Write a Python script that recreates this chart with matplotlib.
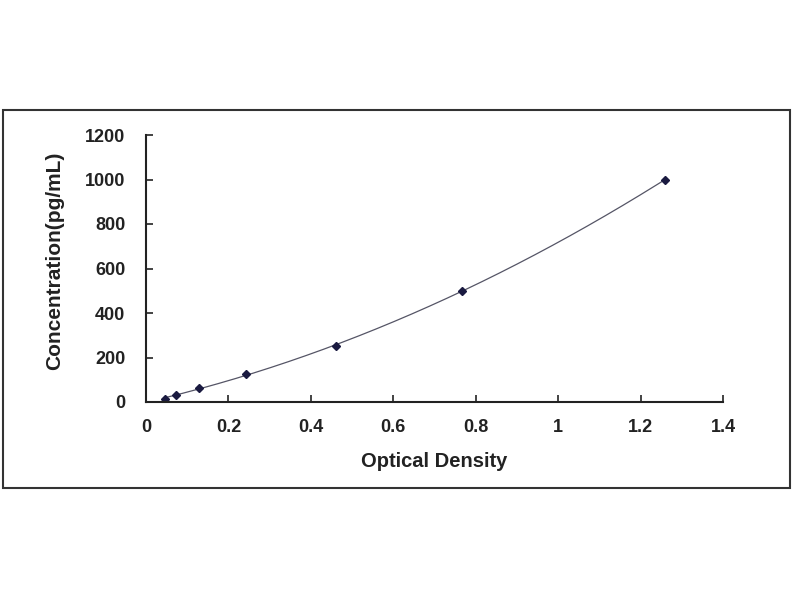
import numpy as np
import matplotlib
matplotlib.use("Agg")
import matplotlib.pyplot as plt
from matplotlib.patches import Rectangle

od = [0.047, 0.073, 0.128, 0.243, 0.46, 0.766, 1.26]
conc = [15.6, 31.25, 62.5, 125, 250, 500, 1000]
xticks = [0, 0.2, 0.4, 0.6, 0.8, 1.0, 1.2, 1.4]
xticklabels = ["0", "0.2", "0.4", "0.6", "0.8", "1", "1.2", "1.4"]
yticks = [0, 200, 400, 600, 800, 1000, 1200]

plt.rcParams['font.family'] = ['Liberation Sans', 'DejaVu Sans']

fig = plt.figure(figsize=(8, 6), dpi=100)
fig.patches.append(Rectangle((3/800, 1-488/600), 787/800, 378/600, transform=fig.transFigure,
                             fill=False, edgecolor='#333333', linewidth=1.5))
ax = fig.add_axes([146/800, 1-402/600, (723-146)/800, (402-135)/600])

coef = np.polyfit(od, conc, 2)
xs = np.linspace(min(od), max(od), 200)
ax.plot(xs, np.polyval(coef, xs), color='#555566', linewidth=0.9)
ax.plot(od, conc, linestyle='none', marker='D', markersize=4, color='#1a1a40')

ax.set_xlim(0, 1.4)
ax.set_ylim(0, 1200)
ax.set_xticks(xticks)
ax.set_xticklabels(xticklabels)
ax.set_yticks(yticks)
for s in ['top', 'right']:
    ax.spines[s].set_visible(False)
for s in ['left', 'bottom']:
    ax.spines[s].set_linewidth(1.5)
    ax.spines[s].set_color('#222222')
ax.tick_params(direction='in', length=5, width=1.2, labelsize=13, colors='#222222')
ax.tick_params(axis='x', pad=12)
ax.tick_params(axis='y', pad=15)
for lab in ax.get_xticklabels() + ax.get_yticklabels():
    lab.set_fontweight('bold')
ax.set_xlabel('Optical Density', fontsize=14.5, fontweight='bold', labelpad=12, color='#222222')
ax.set_ylabel('Concentration(pg/mL)', fontsize=15, fontweight='bold', color='#222222')
ax.yaxis.set_label_coords(-0.142, 0.53)

fig.savefig('out.png', dpi=100)
